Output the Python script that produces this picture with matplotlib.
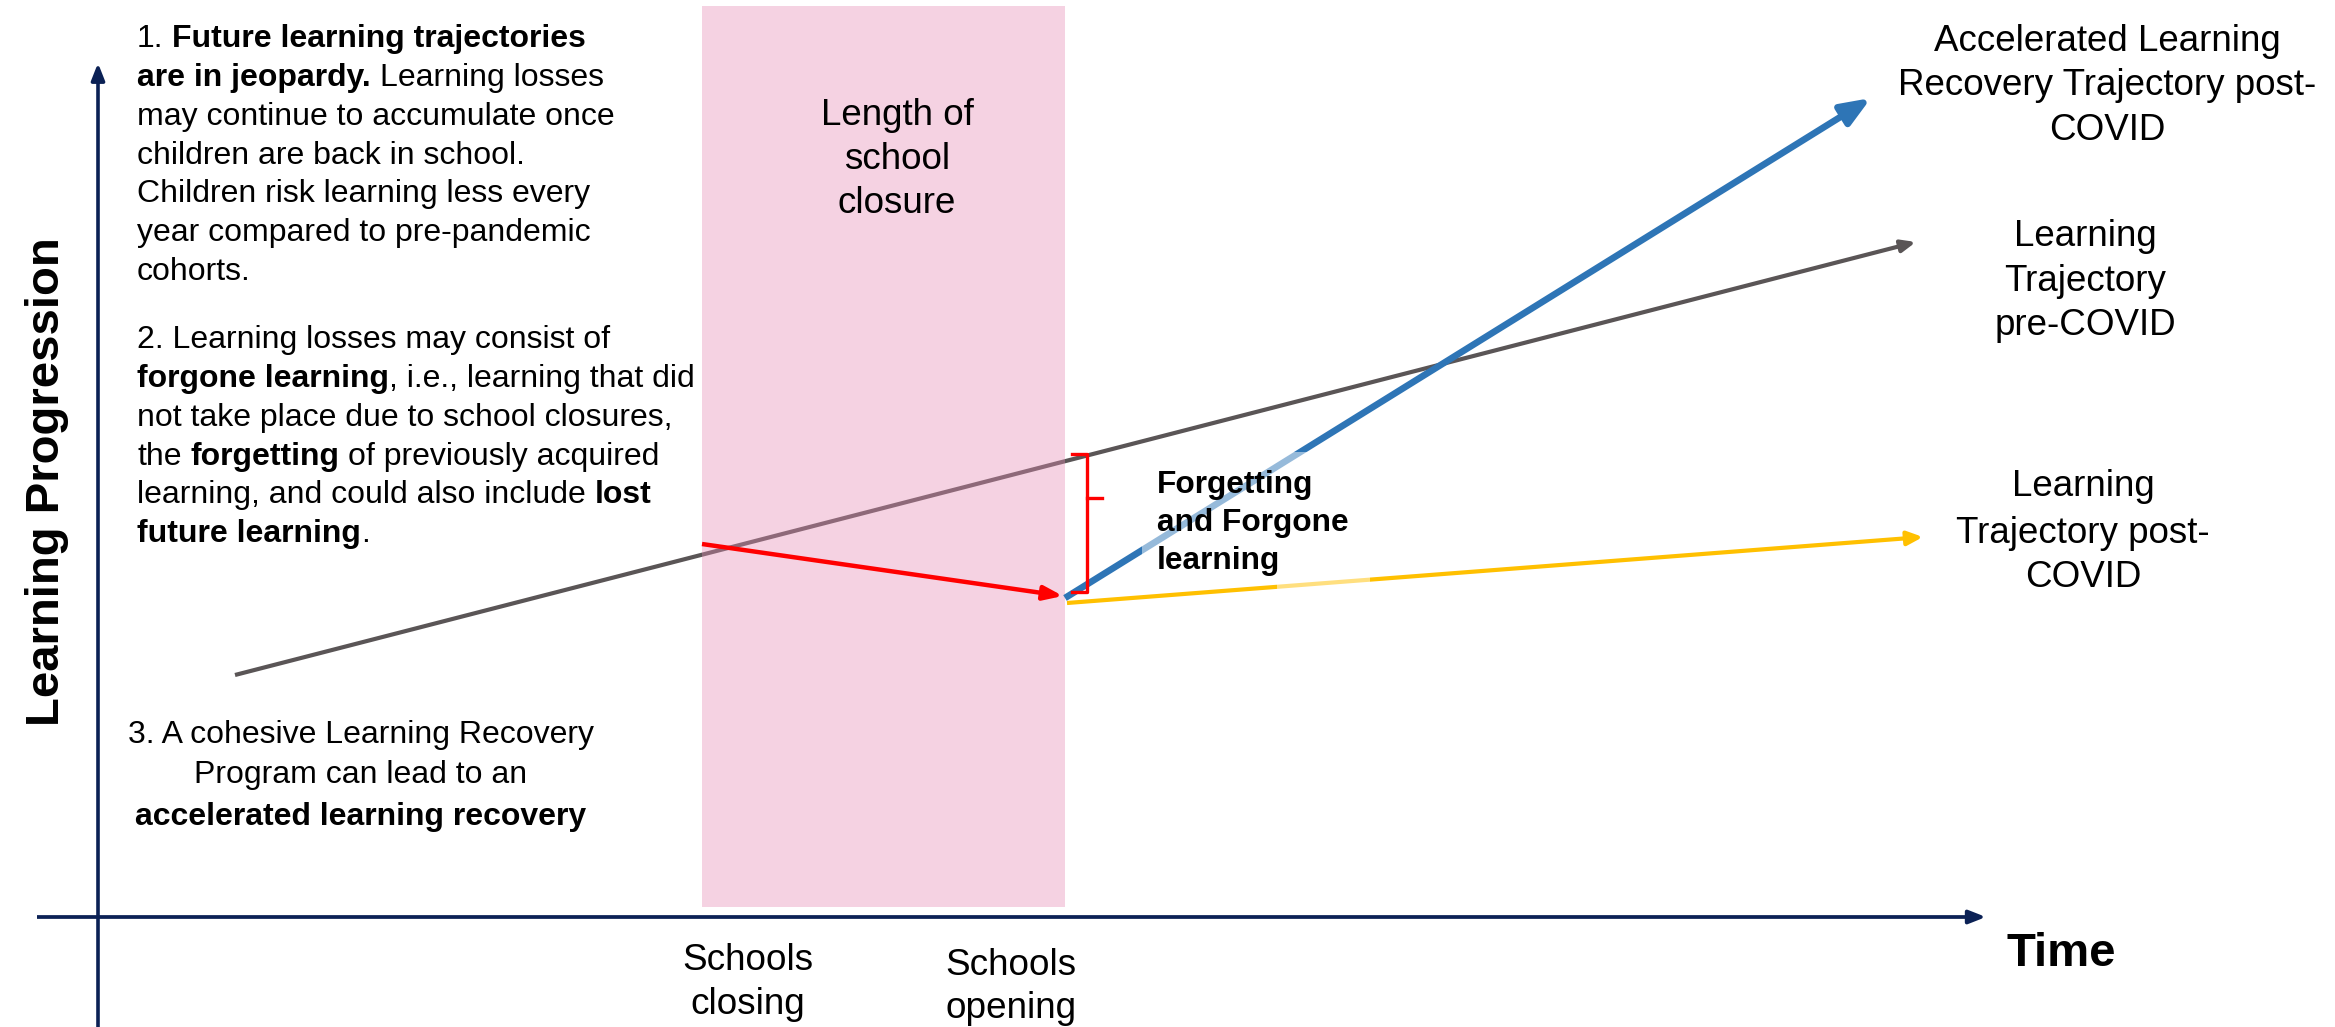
import matplotlib
matplotlib.use("Agg")
import matplotlib.pyplot as plt
from matplotlib.patches import Rectangle, FancyArrowPatch

# ------------------------------------------------------------------ data
# time (x) and learning level (y) in arbitrary diagram units
phase_labels = ["Schools\nclosing", "Schools\nopening"]
phase_times = [30.2, 48.35]
closure_span = [0.5, 45.55]          # vertical extent of the closure band
closure_label = ["Length of", "school", "closure"]

pre_covid_t = [6.85, 90.9]
pre_covid_y = [12.1, 33.75]
loss_t = [30.2, 48.25]
loss_y = [18.65, 16.05]
post_covid_t = [48.45, 91.25]
post_covid_y = [15.7, 19.0]
accel_t = [48.35, 88.65]
accel_y = [15.95, 40.95]
gap_t = 49.45
gap_range = [16.25, 23.15]

time_axis_range = [-3.05, 94.4]
progress_axis_range = [-5.5, 42.7]
x_axis_label = "Time"
y_axis_label = "Learning Progression"

accel_label = ["Accelerated Learning", "Recovery Trajectory post-", "COVID"]
pre_label = ["Learning", "Trajectory", "pre-COVID"]
post_label = ["Learning", "Trajectory post-", "COVID"]
gap_label = ["Forgetting", "and Forgone", "learning"]

# rich text paragraphs: (text, bold, space_before)
para1 = [
    [("1.", False, False), ("Future learning trajectories", True, True)],
    [("are in jeopardy.", True, False), ("Learning losses", False, True)],
    [("may continue to accumulate once", False, False)],
    [("children are back in school.", False, False)],
    [("Children risk learning less every", False, False)],
    [("year compared to pre-pandemic", False, False)],
    [("cohorts.", False, False)],
]
para2 = [
    [("2. Learning losses may consist of", False, False)],
    [("forgone learning", True, False), (", i.e., learning that did", False, False)],
    [("not take place due to school closures,", False, False)],
    [("the", False, False), ("forgetting", True, True), ("of previously acquired", False, True)],
    [("learning, and could also include", False, False), ("lost", True, True)],
    [("future learning", True, False), (".", False, False)],
]
para3 = [
    ("3. A cohesive Learning Recovery", False),
    ("Program can lead to an", False),
    ("accelerated learning recovery", True),
]

# ------------------------------------------------------------------ style
W, H = 2335, 1027
FONT = ["Liberation Sans", "DejaVu Sans"]
NAVY = "#0B2155"
BLUE = "#2E75B6"
GREY = "#5A5556"
YELLOW = "#FFC000"
RED = "#FF0000"
PINK = "#E58BB3"

fig = plt.figure(figsize=(W / 100, H / 100), dpi=100)
ax = fig.add_axes([0, 0, 1, 1])
ax.set_xlim(-98 / 20, (W - 98) / 20)
ax.set_ylim(-(H - 917) / 20, 917 / 20)
ax.axis("off")
renderer = fig.canvas.get_renderer()


def arrow(t, y, color, lw, hl, hw, z):
    p = FancyArrowPatch((t[0], y[0]), (t[1], y[1]),
                        arrowstyle=f"-|>,head_length={hl},head_width={hw}",
                        mutation_scale=20, color=color, lw=lw,
                        shrinkA=0, shrinkB=0, zorder=z, capstyle="butt")
    ax.add_patch(p)


def fpos(xp, yp):
    return xp / W, 1 - yp / H


def lines_at(xp, centers, lines, size, weight="normal", ha="center"):
    em = size / 72 * 100
    for txt, yc in zip(lines, centers):
        fig.text(*fpos(xp, yc + 0.36 * em), txt, fontsize=size, fontweight=weight,
                 ha=ha, va="baseline", family=FONT, zorder=6)


def rich_line(xp, yc, segments, size):
    em = size / 72 * 100
    base = yc + 0.35 * em
    x = xp
    for txt, bold, space in segments:
        if space:
            x += 0.278 * em
        t = fig.text(*fpos(x, base), txt, fontsize=size,
                     fontweight="bold" if bold else "normal",
                     ha="left", va="baseline", family=FONT, zorder=6)
        x = t.get_window_extent(renderer).x1


# ------------------------------------------------------------------ marks
# closure band
ax.add_patch(Rectangle((phase_times[0], closure_span[0]),
                       phase_times[1] - phase_times[0],
                       closure_span[1] - closure_span[0],
                       facecolor=PINK, alpha=0.38, edgecolor="none", zorder=2))

# trajectories
arrow(pre_covid_t, pre_covid_y, GREY, 3.0, 0.43, 0.18, 1)
arrow(loss_t, loss_y, RED, 3.2, 0.57, 0.21, 3)
arrow(post_covid_t, post_covid_y, YELLOW, 3.0, 0.47, 0.21, 3)
arrow(accel_t, accel_y, BLUE, 4.8, 0.88, 0.35, 3)

# bracket for the gap
hook = 0.75
ax.plot([gap_t - hook, gap_t, gap_t, gap_t - hook],
        [gap_range[1], gap_range[1], gap_range[0], gap_range[0]],
        color=RED, lw=2.4, solid_joinstyle="round", zorder=3)
mid = gap_range[0] + 0.68 * (gap_range[1] - gap_range[0])
ax.plot([gap_t, gap_t + hook], [mid, mid], color=RED, lw=2.4, zorder=3)

# semi-transparent text boxes (lighten lines underneath)
ax.add_patch(Rectangle((52.2, 16.95), 10.9, 6.3, facecolor="white",
                       alpha=0.5, edgecolor="none", zorder=4))
ax.add_patch(Rectangle((58.95, 16.25), 4.65, 0.85, facecolor="white",
                       alpha=0.5, edgecolor="none", zorder=4))

# axes
arrow(time_axis_range, [0, 0], NAVY, 2.7, 0.51, 0.2, 5)
arrow([0, 0], progress_axis_range, NAVY, 2.6, 0.51, 0.2, 5)

# ------------------------------------------------------------------ text
fig.text(*fpos(47, 482), y_axis_label, rotation=90, fontsize=34, fontweight="bold",
         ha="center", va="center", family=FONT)
fig.text(*fpos(2061, 954), x_axis_label, fontsize=34, fontweight="bold",
         ha="center", va="center", family=FONT)

# phase labels below the time axis
lines_at(748, [957, 1001], phase_labels[0].split("\n"), 26.6)
lines_at(1011, [962, 1005], phase_labels[1].split("\n"), 26.6)

# closure label
lines_at(897, [112, 156, 200], closure_label, 26.5)

# right-hand labels
lines_at(2107, [38, 82, 127], accel_label, 26.5)
lines_at(2085, [233, 278, 322], pre_label, 26.5)
lines_at(2083, [483, 530, 574], post_label, 26.5)

# gap label
lines_at(1157, [482, 520, 558], gap_label, 22.8, weight="bold", ha="left")

# paragraphs
for i, seg in enumerate(para1):
    rich_line(137, 36 + 38.8 * i, seg, 23)
for i, seg in enumerate(para2):
    rich_line(137, 337 + 38.8 * i, seg, 23)
for i, (txt, bold) in enumerate(para3):
    lines_at(361, [731 + 41 * i], [txt], 23, weight="bold" if bold else "normal")

fig.savefig("out.png", dpi=100)
